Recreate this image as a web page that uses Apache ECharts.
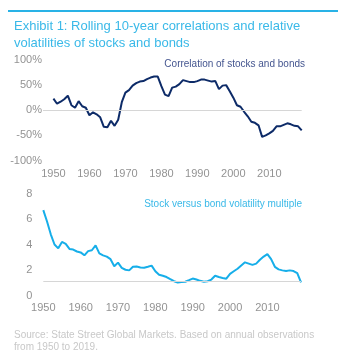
<!DOCTYPE html>
<html>
<head>
<meta charset="utf-8">
<script src="https://cdn.jsdelivr.net/npm/echarts@6/dist/echarts.min.js"></script>
<style>
  html, body { margin: 0; padding: 0; background: #ffffff; }
  #chart { width: 343px; height: 351px; }
</style>
</head>
<body>
<div id="chart"></div>
<script>
// Rolling 10-year window, annual observations 1950-2019
const firstYear = 1950;
const lastYear = 2019;
const yearTicks = [1950, 1960, 1970, 1980, 1990, 2000, 2010];

// Correlation of stock and bond returns, %
const correlation = [
  23, 13, 17, 22, 29, 10, 5, 18, 8, 5,
  -10, -4, -8, -14, -33, -34, -21, -31, -19, 16,
  35, 40, 49, 54, 57, 58, 62, 65, 67, 67,
  48, 31, 28, 45, 47, 52, 60, 58, 56, 56,
  58, 61, 61, 59, 57, 58, 42, 49, 50, 38,
  25, 10, 7, -3, -12, -23, -25, -30, -53, -50,
  -46, -41, -32, -32, -29, -26, -28, -31, -32, -40
];

// Stock volatility divided by bond volatility
const volMultiple = [
  6.7, 5.8, 4.8, 4.0, 3.7, 4.2, 4.05, 3.65, 3.6, 3.45,
  3.38, 3.15, 3.48, 3.55, 3.93, 3.3, 3.15, 3.05, 2.85, 2.3,
  2.58, 2.17, 2.02, 1.97, 2.25, 2.28, 2.2, 2.18, 2.25, 2.34,
  1.9, 1.62, 1.55, 1.45, 1.28, 1.12, 1.02, 1.05, 1.08, 1.2,
  1.33, 1.25, 1.15, 1.08, 1.12, 1.25, 1.55, 1.45, 1.38, 1.32,
  1.7, 1.9, 2.1, 2.35, 2.6, 2.5, 2.4, 2.5, 2.8, 3.05,
  3.25, 2.85, 2.25, 2.05, 1.97, 1.93, 1.97, 1.92, 1.75, 1.02
];

const corrTicks = [-100, -50, 0, 50, 100];
const volTicks = [0, 2, 4, 6, 8];
const volReference = 1.12;

const years = [];
for (let y = firstYear; y <= lastYear; y++) years.push(y);
const pairs = (vals) => vals.map((v, i) => [years[i], v]);

const labelColor = '#939393';
const font = 'Liberation Sans, Arial, sans-serif';
const yearLabel = (v) => String(Math.round(v));

const chart = echarts.init(document.getElementById('chart'), null, { renderer: 'canvas' });

chart.setOption({
  backgroundColor: '#ffffff',
  animation: false,
  title: [
    {
      text: 'Exhibit 1: Rolling 10-year correlations and relative\nvolatilities of stocks and bonds',
      left: 9, top: 13,
      textStyle: { color: '#3ab9e8', fontSize: 13, fontWeight: 'normal', fontFamily: font, lineHeight: 17 }
    },
    {
      text: 'Source: State Street Global Markets. Based on annual observations\nfrom 1950 to 2019.',
      left: 9, top: 324,
      textStyle: { color: '#c8c8c8', fontSize: 10, fontWeight: 'normal', fontFamily: font, lineHeight: 12 }
    }
  ],
  graphic: [
    { type: 'rect', shape: { x: 8, y: 10, width: 330, height: 2 }, style: { fill: '#29b2e6' } },
    { type: 'text', right: 38, top: 59,
      style: { text: 'Correlation of stocks and bonds', fill: '#44558f', fontSize: 10, fontFamily: font } },
    { type: 'text', right: 41, top: 199,
      style: { text: 'Stock versus bond volatility multiple', fill: '#3ab9e8', fontSize: 10, fontFamily: font } }
  ],
  grid: [
    { left: 43, right: 41.3, top: 60, height: 100.5 },
    { left: 43.3, right: 42, top: 193.5, height: 102 }
  ],
  xAxis: [
    {
      gridIndex: 0, type: 'value', min: 1947.1, max: lastYear,
      axisLine: { show: false }, axisTick: { show: false }, splitLine: { show: false },
      axisLabel: { customValues: yearTicks, formatter: yearLabel, color: labelColor, fontSize: 11, fontFamily: font, margin: 8 }
    },
    {
      gridIndex: 1, type: 'value', min: firstYear, max: lastYear,
      axisLine: { show: false }, axisTick: { show: false }, splitLine: { show: false },
      axisLabel: { customValues: yearTicks, formatter: yearLabel, color: labelColor, fontSize: 11, fontFamily: font, margin: 7 }
    }
  ],
  yAxis: [
    {
      gridIndex: 0, type: 'value', min: -100, max: 100, interval: 50,
      axisLine: { show: false }, axisTick: { show: false }, splitLine: { show: false },
      axisLabel: { customValues: corrTicks, formatter: '{value}%', color: labelColor, fontSize: 11, fontFamily: font, margin: 1 }
    },
    {
      gridIndex: 1, type: 'value', min: 0, max: 8, interval: 2,
      axisLine: { show: false }, axisTick: { show: false }, splitLine: { show: false },
      axisLabel: { customValues: volTicks, color: labelColor, fontSize: 11, fontFamily: font, margin: 11 }
    }
  ],
  series: [
    {
      name: 'Correlation of stocks and bonds',
      type: 'line', xAxisIndex: 0, yAxisIndex: 0,
      data: pairs(correlation),
      showSymbol: false, smooth: false,
      lineStyle: { color: '#0d2b68', width: 2 },
      markLine: {
        silent: true, symbol: 'none', label: { show: false },
        lineStyle: { color: '#d6d6d6', width: 1, type: 'solid' },
        data: [{ yAxis: 0 }]
      },
      z: 3
    },
    {
      name: 'Stock versus bond volatility multiple',
      type: 'line', xAxisIndex: 1, yAxisIndex: 1,
      data: pairs(volMultiple),
      showSymbol: false, smooth: false,
      lineStyle: { color: '#16aee9', width: 2 },
      markLine: {
        silent: true, symbol: 'none', label: { show: false },
        lineStyle: { color: '#d6d6d6', width: 1, type: 'solid' },
        data: [{ yAxis: volReference }]
      },
      z: 3
    }
  ]
});
</script>
</body>
</html>
